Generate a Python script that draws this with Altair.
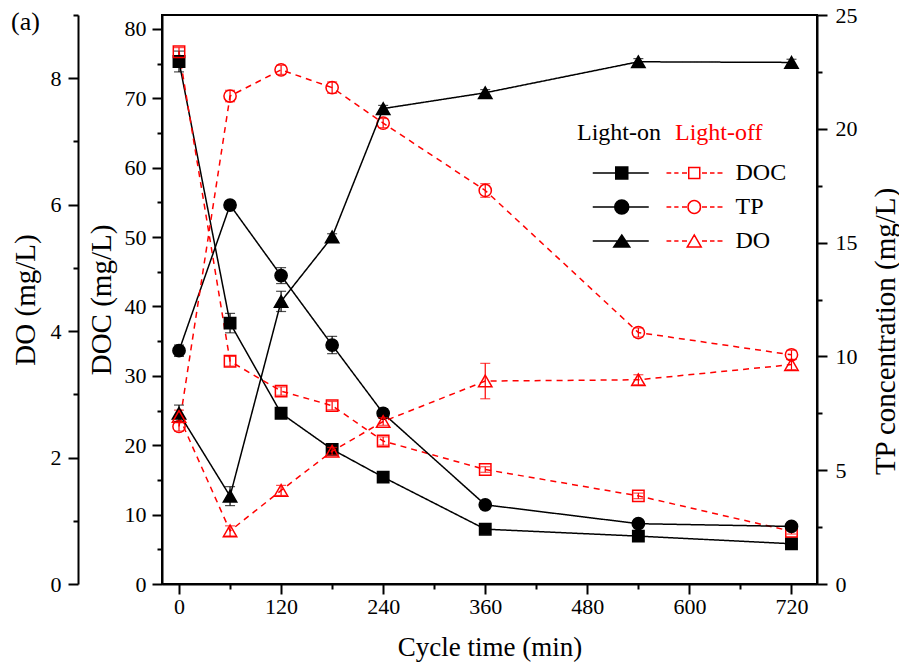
import altair as alt
import pandas as pd

# ---------------- data ----------------
times = [0, 60, 120, 180, 240, 360, 540, 720]

doc_on = [75.3, 37.6, 24.6, 19.4, 15.4, 7.9, 6.9, 5.8]
doc_on_err = [1.5, 1.4, 0.4, 0.3, 0.3, 0.3, 0.3, 0.3]
doc_off = [76.7, 32.1, 27.8, 25.7, 20.6, 16.5, 12.7, 7.6]
doc_off_err = [0.6, 0.7, 0.6, 0.6, 0.6, 0.4, 0.4, 0.4]

tp_on = [10.25, 16.65, 13.55, 10.5, 7.5, 3.48, 2.65, 2.53]
tp_on_err = [0.25, 0.15, 0.35, 0.38, 0.2, 0.15, 0.1, 0.1]
tp_off = [6.92, 21.44, 22.59, 21.81, 20.25, 17.29, 11.05, 10.07]
tp_off_err = [0.2, 0.25, 0.2, 0.25, 0.2, 0.3, 0.2, 0.2]

do_on = [2.70, 1.39, 4.47, 5.49, 7.52, 7.77, 8.26, 8.25]
do_on_err = [0.13, 0.15, 0.16, 0.05, 0.05, 0.05, 0.05, 0.05]
do_off = [2.65, 0.84, 1.48, 2.10, 2.57, 3.21, 3.23, 3.47]
do_off_err = [0.1, 0.08, 0.08, 0.06, 0.06, 0.28, 0.08, 0.08]

series = ["DOC", "TP", "DO"]
x_ticks = [0, 60, 120, 180, 240, 300, 360, 420, 480, 540, 600, 660, 720]
doc_ticks = [0, 5, 10, 15, 20, 25, 30, 35, 40, 45, 50, 55, 60, 65, 70, 75, 80]
tp_ticks = [0, 2.5, 5, 7.5, 10, 12.5, 15, 17.5, 20, 22.5, 25]
do_ticks = [0, 1, 2, 3, 4, 5, 6, 7, 8, 9]

FONT = "Liberation Serif"


def frame(on, on_err, off, off_err):
    n = len(times)
    return pd.DataFrame({
        "t": times + times,
        "v": on + off,
        "e": on_err + off_err,
        "cond": ["on"] * n + ["off"] * n,
    })


def axis_style(**kw):
    base = dict(
        grid=False, domainColor="black", domainWidth=2, tickColor="black",
        tickWidth=2, labelFont=FONT, labelFontSize=22, labelColor="black",
        titleFont=FONT, titleFontSize=29, titleFontWeight="normal",
        titleColor="black", labelFlush=False, labelOverlap=False,
    )
    base.update(kw)
    return alt.Axis(**base)


def tick_size(step):
    return {"condition": {"test": f"datum.value % {step} != 0", "value": 5}, "value": 10}


def label_expr(step):
    return f"datum.value % {step} == 0 ? datum.label : ''"


x_enc = alt.X(
    "t:Q",
    scale=alt.Scale(domain=[-20, 750], nice=False, zero=False),
    axis=axis_style(values=x_ticks, title="Cycle time (min)",
                    tickSize=tick_size(120), labelExpr=label_expr(120),
                    labelPadding=2, titlePadding=17, titleFontSize=27),
)

is_on = "datum.cond == 'on'"
color_c = alt.condition(is_on, alt.value("black"), alt.value("red"))
fill_c = alt.condition(is_on, alt.value("black"), alt.value("transparent"))
dash_c = alt.condition(is_on, alt.value([1, 0]), alt.value([6, 5]))


def group(df, shape, size, y_scale, y_axis):
    base = alt.Chart(df)
    y = alt.Y("v:Q", scale=y_scale, axis=y_axis)
    err = base.mark_errorbar(ticks=True, size=10, thickness=1.2).encode(
        x=x_enc, y=y, yError="e:Q", color=color_c)
    line = base.mark_line(strokeWidth=1.5).encode(
        x=x_enc, y=y, detail="cond:N", color=color_c, strokeDash=dash_c)
    pts = base.mark_point(shape=shape, size=size, strokeWidth=1.5, opacity=1).encode(
        x=x_enc, y=y, fill=fill_c, stroke=color_c)
    return alt.layer(err, line, pts)


doc_axis = axis_style(orient="left", values=doc_ticks, title="DOC (mg/L)",
                      tickSize=tick_size(10), labelExpr=label_expr(10),
                      labelPadding=6, titlePadding=8)
tp_axis = axis_style(orient="right", values=tp_ticks, title="TP concentration (mg/L)",
                     tickSize=tick_size(5), labelExpr=label_expr(5),
                     labelPadding=8, titlePadding=14, titleAngle=270,
                     titleBaseline="top", titleY=316)
do_axis = axis_style(orient="left", offset=84, values=do_ticks, title="DO (mg/L)",
                     tickSize=tick_size(2), labelExpr=label_expr(2),
                     labelPadding=7, titlePadding=10)

doc_g = group(frame(doc_on, doc_on_err, doc_off, doc_off_err), "square", 130,
              alt.Scale(domain=[0, 82], nice=False, zero=True), doc_axis)
tp_g = group(frame(tp_on, tp_on_err, tp_off, tp_off_err), "circle", 150,
             alt.Scale(domain=[0, 25], nice=False, zero=True), tp_axis)
do_g = group(frame(do_on, do_on_err, do_off, do_off_err), "triangle-up", 180,
             alt.Scale(domain=[0, 9], nice=False, zero=True), do_axis)

# ---------------- legend symbols (line + marker glyphs) ----------------
U = 9.0  # symbolSize 324 -> 9 px per path unit


def f(v):
    return f"{v / U:.3f}"


def seg(x0, x1):
    return f"M{f(x0)},0H{f(x1)}"


def sq(cx, h):
    return f"M{f(cx - h)},{f(-h)}H{f(cx + h)}V{f(h)}H{f(cx - h)}Z"


def circ(cx, r):
    return (f"M{f(cx - r)},0A{f(r)},{f(r)} 0 1,0 {f(cx + r)},0"
            f"A{f(r)},{f(r)} 0 1,0 {f(cx - r)},0Z")


def tri(cx, w, h):
    return f"M{f(cx)},{f(-h / 2)}L{f(cx + w / 2)},{f(h / 2)}L{f(cx - w / 2)},{f(h / 2)}Z"


# solid (light-on)
on_l, on_r, on_c = 3.75, 59.75, 32.75
paths_on = [
    seg(on_l, on_r) + sq(on_c, 6),
    seg(on_l, on_r) + circ(on_c, 7),
    seg(on_l, on_r) + tri(on_c, 16, 12),
]
# dashed (light-off)
sh = -3.0
off_c = 10.25 + sh
dashes = [(-17.5, -12.75), (-9.75, -5.5), (-2.0, 3.0), (18.0, 23.0), (26.0, 30.5), (33.5, 38.5)]
dash_path = "".join(seg(a + sh, b + sh) for a, b in dashes)
paths_off = [
    dash_path + sq(off_c, 5.5),
    dash_path + circ(off_c, 6.2),
    dash_path + tri(off_c, 14, 12),
]

legend_common = dict(
    orient="none", symbolSize=324, symbolStrokeWidth=1.5,
    labelFont=FONT, labelFontSize=24, labelColor="black",
    titleFont=FONT, titleFontSize=24, titleFontWeight="normal",
    titlePadding=16, rowPadding=10, padding=0,
    legendY=106,
)

leg_df = pd.DataFrame({"s": series})
leg_on = alt.Chart(leg_df).transform_filter("false").mark_point(
    filled=True, fill="black", stroke="black", strokeWidth=1.5, opacity=1
).encode(
    shape=alt.Shape("s:N", scale=alt.Scale(domain=series, range=paths_on),
                    legend=alt.Legend(title="Light-on", titleColor="black",
                                      legendX=415, labelOpacity=0, labelOffset=41.5,
                                      **legend_common))
)
leg_off = alt.Chart(leg_df).transform_filter("false").mark_point(
    filled=False, fill="transparent", stroke="red", strokeWidth=1.5, opacity=1
).encode(
    shape=alt.Shape("s:N", scale=alt.Scale(domain=series, range=paths_off),
                    legend=alt.Legend(title="Light-off", titleColor="red",
                                      legendX=513, labelOffset=36.5, **legend_common))
)

chart = alt.layer(doc_g, tp_g, do_g, leg_on, leg_off).resolve_scale(
    y="independent", shape="independent"
).properties(
    width=655, height=569,
    autosize=alt.AutoSizeParams(type="none"),
    padding={"left": 162, "top": 15, "right": 82, "bottom": 84},
    title=alt.TitleParams(text="(a)", anchor="start", frame="group", dx=-151,
                          baseline="top", offset=0, dy=31, fontSize=26,
                          font=FONT, fontWeight="normal", color="black"),
).configure_view(stroke="black", strokeWidth=2)

chart.save("out.html", embed_options={"renderer": "svg", "actions": False})
